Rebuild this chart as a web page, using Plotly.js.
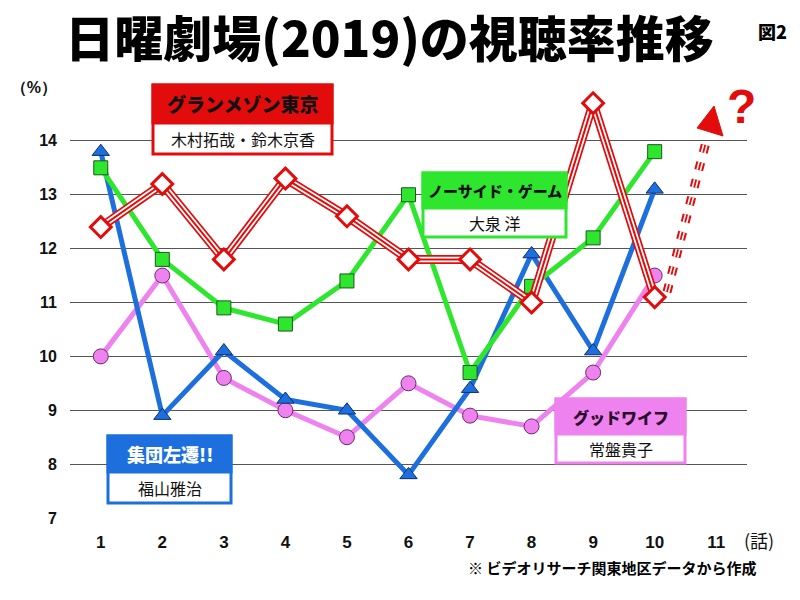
<!DOCTYPE html>
<html>
<head>
<meta charset="utf-8">
<script src="https://cdn.plot.ly/plotly-3.0.1.min.js"></script>
<style>body{margin:0;background:#fff;} #chart{width:800px;height:600px;}</style>
</head>
<body>
<div id="chart"></div>
<script>
// ---- data ----
const episodes = [1, 2, 3, 4, 5, 6, 7, 8, 9, 10];
const grandMaison = [12.4, 13.2, 11.8, 13.3, 12.6, 11.8, 11.8, 11.0, 14.7, 11.1];
const noSide = [13.5, 11.8, 10.9, 10.6, 11.4, 13.0, 9.7, 11.3, 12.2, 13.8];
const shudan = [13.8, 8.9, 10.1, 9.2, 9.0, 7.8, 9.4, 11.9, 10.1, 13.1];
const goodWife = [10.0, 11.5, 9.6, 9.0, 8.5, 9.5, 8.9, 8.7, 9.7, 11.5];
const xTickVals = [1, 2, 3, 4, 5, 6, 7, 8, 9, 10, 11];
const yTickVals = [7, 8, 9, 10, 11, 12, 13, 14, 15];
const yTickText = ['7', '8', '9', '10', '11', '12', '13', '14', '（%）'];
const seriesNames = ['グランメゾン東京', 'ノーサイド・ゲーム', '集団左遷!!', 'グッドワイフ'];
const castNames = ['木村拓哉・鈴木京香', '大泉 洋', '福山雅治', '常盤貴子'];

// ---- styles ----
const RED = '#e20c0c', GREEN = '#2ee62e', BLUE = '#1c6fdc', PINK = '#ee82ee';
const JP = '"Noto Sans CJK JP", "Noto Sans", sans-serif';
const NUM = '"Liberation Sans Narrow", "Liberation Sans", Arial, sans-serif';

// plot area in pixels
const L = 70, R = 747, T = 87, B = 518;
const px = x => (x - L) / (R - L);
const py = y => (B - y) / (B - T);

const traces = [
  {x: episodes, y: goodWife, mode: 'lines+markers', line: {color: PINK, width: 5},
   marker: {symbol: 'circle', size: 15, color: PINK, line: {color: '#6a2a6a', width: 1}}},
  {x: episodes, y: shudan, mode: 'lines+markers', line: {color: BLUE, width: 5},
   marker: {symbol: 'triangle-up', size: 15, color: BLUE, line: {color: '#102e70', width: 1}}},
  {x: episodes, y: noSide, mode: 'lines+markers', line: {color: GREEN, width: 5},
   marker: {symbol: 'square', size: 14, color: GREEN, line: {color: '#1a5a1a', width: 1}}},
  {x: episodes, y: grandMaison, mode: 'lines', line: {color: RED, width: 9}},
  {x: episodes, y: grandMaison, mode: 'lines', line: {color: '#ffffff', width: 5.5}},
  {x: episodes, y: grandMaison, mode: 'lines', line: {color: RED, width: 2}},
  {x: episodes, y: grandMaison, mode: 'markers',
   marker: {symbol: 'diamond', size: 16, color: '#ffffff', line: {color: RED, width: 3}}}
];

// legend boxes: [left, top, divider, right, bottom] pixel positions
const boxes = [
  {c: RED, tc: '#111', box: [153, 85, 123, 332, 154], hs: 19, cs: 16},
  {c: GREEN, tc: '#111', box: [423, 173, 208, 566, 237], hs: 15, cs: 16},
  {c: BLUE, tc: '#ffffff', box: [108, 436, 472, 231, 503], hs: 18, cs: 16},
  {c: PINK, tc: '#2a0a2a', box: [556, 399, 434, 685, 463], hs: 16, cs: 16}
];

const shapes = [];
const annotations = [];
boxes.forEach((b, i) => {
  const [l, t, d, r, bt] = b.box;
  shapes.push({type: 'rect', xref: 'paper', yref: 'paper', layer: 'above',
    x0: px(l), x1: px(r), y0: py(bt), y1: py(t), fillcolor: '#ffffff', line: {color: b.c, width: 3}});
  shapes.push({type: 'rect', xref: 'paper', yref: 'paper', layer: 'above',
    x0: px(l), x1: px(r), y0: py(d), y1: py(t), fillcolor: b.c, line: {color: b.c, width: 3}});
  annotations.push({xref: 'paper', yref: 'paper', x: px((l + r) / 2), y: py((t + d) / 2),
    text: seriesNames[i], showarrow: false, xanchor: 'center', yanchor: 'middle',
    font: {family: JP, size: b.hs, color: b.tc, weight: 900}});
  annotations.push({xref: 'paper', yref: 'paper', x: px((l + r) / 2), y: py((d + bt) / 2),
    text: castNames[i], showarrow: false, xanchor: 'center', yanchor: 'middle',
    font: {family: JP, size: b.cs, color: '#111'}});
});

// dashed "future" arrow (triple-striped)
const arrowLine = {x0: px(667), y0: py(292), x1: px(706), y1: py(142)};
[[RED, 9], ['#ffffff', 5], [RED, 1.8]].forEach(([c, w]) => {
  shapes.push(Object.assign({type: 'line', xref: 'paper', yref: 'paper', layer: 'above',
    line: {color: c, width: w, dash: '8px,10px'}}, arrowLine));
});
shapes.push({type: 'path', xref: 'paper', yref: 'paper', layer: 'above',
  path: `M ${px(697)} ${py(128)} L ${px(723)} ${py(136)} L ${px(714)} ${py(106)} Z`,
  fillcolor: RED, line: {color: RED, width: 1}});

annotations.push(
  {xref: 'paper', yref: 'paper', x: px(741), y: py(106), text: '?', showarrow: false,
   xanchor: 'center', yanchor: 'middle', font: {family: NUM, size: 48, color: RED, weight: 'bold'}},
  {xref: 'paper', yref: 'paper', x: px(772), y: py(31), text: '図2', showarrow: false,
   xanchor: 'center', yanchor: 'middle', font: {family: JP, size: 18, color: '#000', weight: 900}},
  {xref: 'paper', yref: 'paper', x: px(759), y: py(540), text: '(話)', showarrow: false,
   xanchor: 'center', yanchor: 'middle', font: {family: JP, size: 18, color: '#111'}},
  {xref: 'paper', yref: 'paper', x: px(612), y: py(567), text: '※ ビデオリサーチ関東地区データから作成',
   showarrow: false, xanchor: 'center', yanchor: 'middle', font: {family: JP, size: 15, color: '#000', weight: 'bold'}}
);

const layout = {
  width: 800, height: 600,
  margin: {l: L, r: 800 - R, t: T, b: 600 - B},
  paper_bgcolor: '#ffffff', plot_bgcolor: '#ffffff',
  showlegend: false,
  title: {text: '日曜劇場(2019)の視聴率推移', x: 0.487, xanchor: 'center', y: 1 - 40 / 600, yanchor: 'middle',
    font: {family: JP, size: 49, color: '#000', weight: 900}},
  xaxis: {range: [0.5, 11.5], tickvals: xTickVals, showgrid: false, zeroline: false, showline: false,
    ticks: '', ticklabelstandoff: 12, tickfont: {family: NUM, size: 17, color: '#111', weight: 'bold'}, fixedrange: true},
  yaxis: {range: [7, 15], tickvals: yTickVals, ticktext: yTickText, showgrid: true, gridcolor: '#555', gridwidth: 1,
    zeroline: false, showline: false, ticks: '', ticklabelstandoff: 12,
    tickfont: {family: NUM, size: 16, color: '#111', weight: 'bold'}, fixedrange: true},
  shapes: shapes,
  annotations: annotations
};

Plotly.newPlot('chart', traces, layout, {displayModeBar: false, staticPlot: true});
</script>
</body>
</html>
